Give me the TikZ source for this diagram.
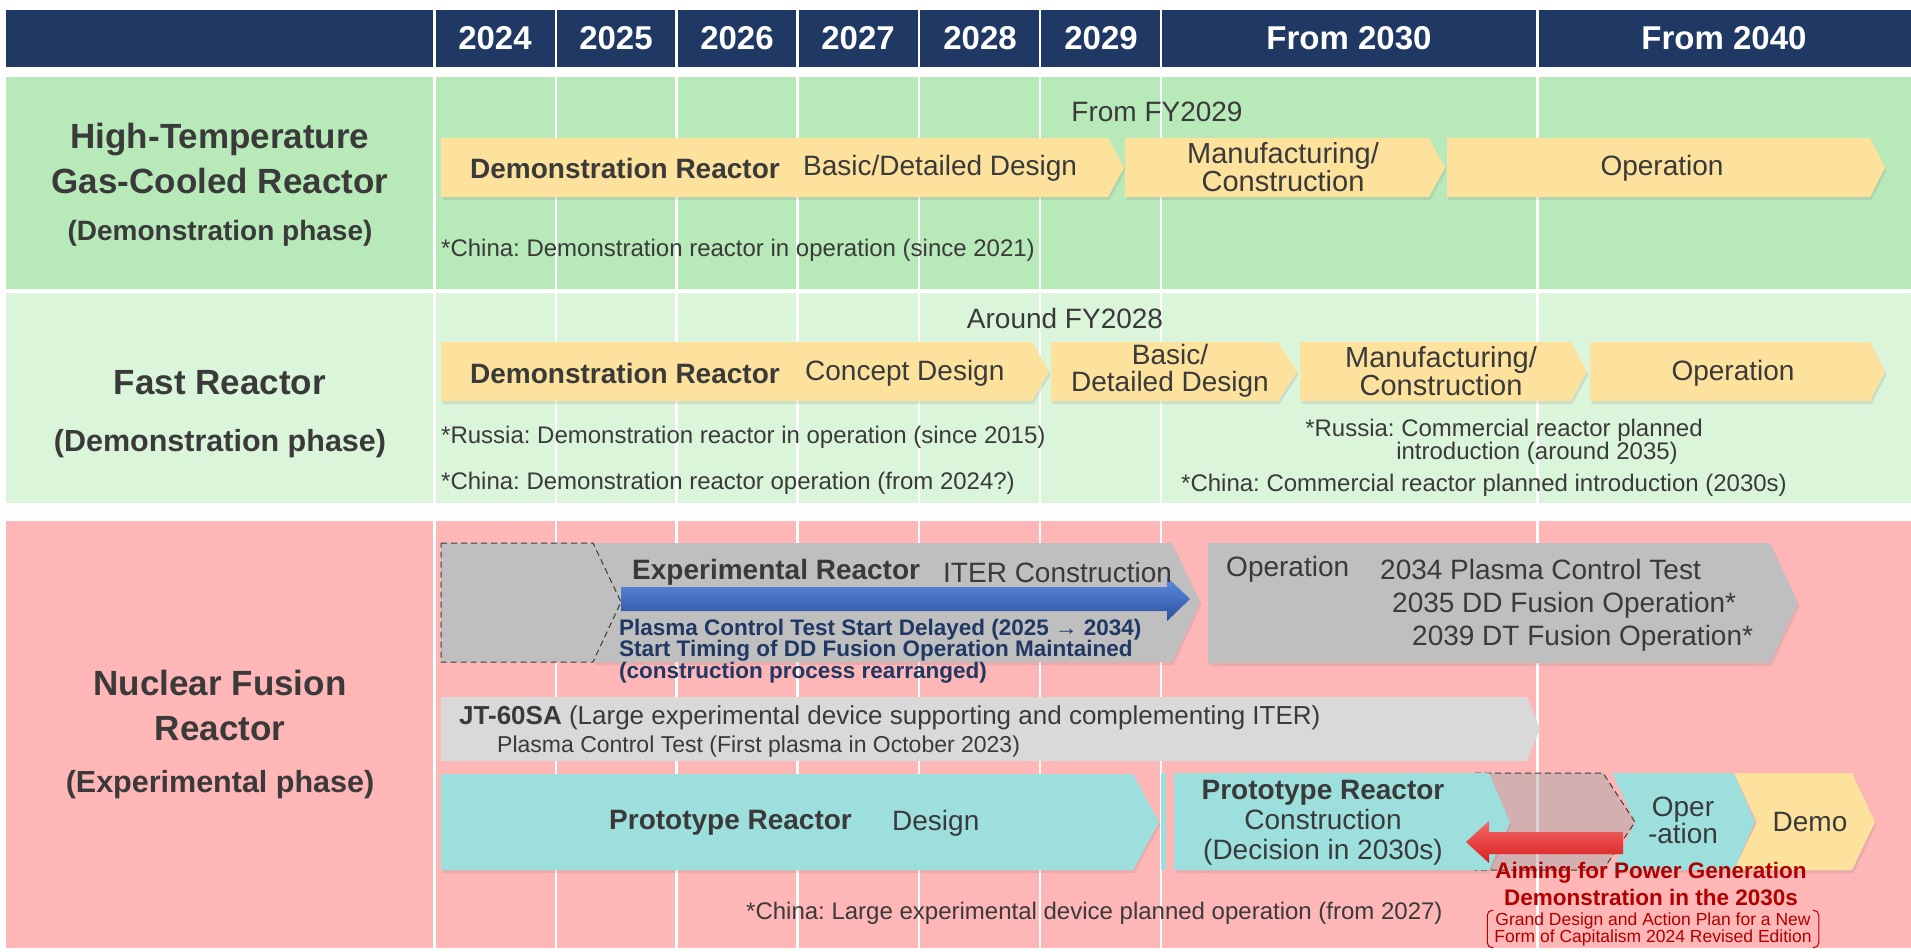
\documentclass[tikz,border=0pt]{standalone}
\usepackage{fontspec}
\setmainfont{Liberation Sans}
\usetikzlibrary{shadows}
\frenchspacing
\definecolor{headnavy}{HTML}{1F3864}
\definecolor{htgrgreen}{HTML}{B8EAB9}
\definecolor{fastgreen}{HTML}{DBF5DB}
\definecolor{fusionpink}{HTML}{FFB6B6}
\definecolor{phaseyellow}{HTML}{FDE29D}
\definecolor{phasegray}{HTML}{BFBFBF}
\definecolor{jtgray}{HTML}{D9D9D9}
\definecolor{phaseteal}{HTML}{9DDFDC}
\definecolor{shadegray}{HTML}{AAAAAA}
\definecolor{inkgray}{HTML}{3A3A3A}
\definecolor{planred}{HTML}{B00000}
\definecolor{delayblue}{HTML}{1F3864}
\definecolor{bluetop}{HTML}{5E8DE0}
\definecolor{bluebot}{HTML}{2C4F9E}
\definecolor{redtop}{HTML}{F46A6A}
\definecolor{redbot}{HTML}{D81E1E}

\begin{document}
\begin{tikzpicture}[x=1pt,y=-1pt,
  yelbar/.style={fill=phaseyellow,drop shadow={shadow xshift=1.5pt,shadow yshift=-3pt,opacity=0.18}},
  graybar/.style={fill=phasegray,drop shadow={shadow xshift=1.5pt,shadow yshift=-3pt,opacity=0.18}},
  tealbar/.style={fill=phaseteal,drop shadow={shadow xshift=1.5pt,shadow yshift=-3pt,opacity=0.18}},
  dashedge/.style={draw=inkgray,line width=1pt,dash pattern=on 6pt off 4pt},
  rowlbl/.style={text=inkgray,align=center,inner sep=0pt,font=\bfseries\fontsize{35}{45}\selectfont},
  phaselbl/.style={text=inkgray,inner sep=0pt,font=\bfseries\fontsize{30.5}{32}\selectfont},
  yearlbl/.style={text=white,inner sep=0pt,font=\bfseries\fontsize{33}{33}\selectfont},
  txt/.style={text=inkgray,inner sep=0pt,align=center,font=\fontsize{28}{27}\selectfont},
  boldtxt/.style={txt,font=\bfseries\fontsize{28}{27}\selectfont},
  note/.style={text=inkgray,inner sep=0pt,anchor=west,font=\fontsize{24}{21}\selectfont}]
\useasboundingbox (0,0) rectangle (1911,952);
\fill[white] (0,0) rectangle (1911,952);

% header and rows
\fill[headnavy] (6,10) rectangle (1911,67);
\fill[htgrgreen] (6,77) rectangle (1911,289);
\fill[fastgreen] (6,293) rectangle (1911,503);
\fill[fusionpink] (6,521) rectangle (1911,948);
\foreach \xx in {434.5,556,676.5,797.5,919,1040,1161,1537.5}
  \draw[white,line width=2.5pt] (\xx,10) -- (\xx,948);

\foreach \yr/\xc in {2024/495,2025/616,2026/737,2027/858,2028/980,2029/1101}
  \node[yearlbl] (yr\yr) at (\xc,38) {\yr};
\node[yearlbl] (yr2030) at (1349,38) {From 2030};
\node[yearlbl] (yr2040) at (1724,38) {From 2040};

\node[rowlbl] (htgrName) at (220,158.5) {High-Temperature\\Gas-Cooled Reactor};
\node[phaselbl,font=\bfseries\fontsize{28}{30}\selectfont] (htgrPhase) at (220,233) {(Demonstration phase)};
\node[rowlbl] (fastName) at (220,383) {Fast Reactor};
\node[phaselbl] (fastPhase) at (220,444) {(Demonstration phase)};
\node[rowlbl] (fusName) at (220,705.5) {Nuclear Fusion\\Reactor};
\node[phaselbl] (fusPhase) at (220,785) {(Experimental phase)};

% high-temperature gas-cooled reactor
\fill[yelbar] (441,138) -- (1108,138) -- (1124,167.5) -- (1108,197) -- (441,197) -- cycle;
\fill[yelbar] (1125,138) -- (1429,138) -- (1445,167.5) -- (1429,197) -- (1125,197) -- cycle;
\fill[yelbar] (1447,138) -- (1870,138) -- (1885,167.5) -- (1870,197) -- (1447,197) -- cycle;
\node[txt] (htgrFrom) at (1157,112) {From FY2029};
\node[boldtxt,anchor=west] (htgrDemo) at (470,168) {Demonstration Reactor};
\node[txt,anchor=west] (htgrDesign) at (803,168) {Basic/Detailed Design};
\node[txt,font=\fontsize{29}{25}\selectfont] (htgrBuild) at (1283,167) {Manufacturing/\\Construction};
\node[txt] (htgrOp) at (1662,168) {Operation};
\node[note] (htgrChina) at (441,250) {*China: Demonstration reactor in operation (since 2021)};

% fast reactor
\fill[yelbar] (441,342) -- (1032,342) -- (1049,371.5) -- (1032,401) -- (441,401) -- cycle;
\fill[yelbar] (1051,342) -- (1278,342) -- (1297,371.5) -- (1278,401) -- (1051,401) -- cycle;
\fill[yelbar] (1300,342) -- (1571,342) -- (1587,371.5) -- (1571,401) -- (1300,401) -- cycle;
\fill[yelbar] (1590,342) -- (1870,342) -- (1885,371.5) -- (1870,401) -- (1590,401) -- cycle;
\node[txt] (fastAround) at (1065,318) {Around FY2028};
\node[boldtxt,anchor=west] (fastDemo) at (470,373) {Demonstration Reactor};
\node[txt,anchor=west] (fastConcept) at (805,373) {Concept Design};
\node[txt] (fastDesign) at (1170,371) {Basic/\\Detailed Design};
\node[txt,font=\fontsize{29}{27}\selectfont] (fastBuild) at (1441,371) {Manufacturing/\\Construction};
\node[txt] (fastOp) at (1733,373) {Operation};
\node[note] (fastRussia) at (441,437) {*Russia: Demonstration reactor in operation (since 2015)};
\node[note] (fastChina) at (441,483) {*China: Demonstration reactor operation (from 2024?)};
\node[note,anchor=center,align=center] (fastRuPlan) at (1504,442) {*Russia: Commercial reactor planned\\\hspace*{66pt}introduction (around 2035)};
\node[note] (fastCnPlan) at (1181,485) {*China: Commercial reactor planned introduction (2030s)};

% nuclear fusion reactor
\fill[graybar] (593,543) -- (1172,543) -- (1200,602) -- (1172,662) -- (593,662) -- (621,602) -- cycle;
\filldraw[fill=phasegray,dashedge] (441,543) -- (593,543) -- (621,602) -- (593,662) -- (441,662) -- cycle;
\fill[graybar] (1208,543) -- (1770,543) -- (1798,603) -- (1770,663) -- (1208,663) -- cycle;
\shade[top color=bluetop,bottom color=bluebot] (621,587) -- (1167,587) -- (1167,577) -- (1190,599) -- (1167,621) -- (1167,611) -- (621,611) -- cycle;
\node[boldtxt,anchor=west] (iterExp) at (632,572) {Experimental Reactor};
\node[txt,anchor=west] (iterBuild) at (943,572) {ITER Construction};
\node[anchor=west,align=left,inner sep=0pt,text=delayblue,font=\bfseries\fontsize{22.5}{21}\selectfont] (iterDelay) at (619,651)
  {Plasma Control Test Start Delayed (2025 → 2034)\\Start Timing of DD Fusion Operation Maintained\\(construction process rearranged)};
\node[txt,anchor=west] (iterOp) at (1226,569) {Operation};
\node[txt,anchor=west] (iterPlasma) at (1380,569) {2034 Plasma Control Test};
\node[txt,anchor=west] (iterDD) at (1392,605) {2035 DD Fusion Operation*};
\node[txt,anchor=west] (iterDT) at (1412,638) {2039 DT Fusion Operation*};

\fill[jtgray] (441,697) -- (1527,697) -- (1540,729) -- (1527,761) -- (441,761) -- cycle;
\node[txt,anchor=west,font=\fontsize{26}{26}\selectfont] (jtName) at (459,718) {\textbf{JT-60SA} (Large experimental device supporting and complementing ITER)};
\node[txt,anchor=west,font=\fontsize{23}{23}\selectfont] (jtTest) at (497,747) {Plasma Control Test (First plasma in October 2023)};

\fill[tealbar] (441,774) -- (1133,774) -- (1159,822) -- (1133,870) -- (441,870) -- cycle;
\fill[phaseteal] (1161,773) rectangle (1166,870);
\fill[tealbar] (1612,773) -- (1734,773) -- (1755,822) -- (1734,870) -- (1612,870) -- (1635,822) -- cycle;
\fill[yelbar] (1734,773) -- (1852,773) -- (1875,822) -- (1852,870) -- (1734,870) -- (1757,822) -- cycle;
\filldraw[fill=shadegray,fill opacity=0.5,dashedge] (1475,773) -- (1603,773) -- (1635,822) -- (1603,870) -- (1475,870) -- cycle;
\fill[tealbar] (1174,773) -- (1489,773) -- (1510,822) -- (1489,870) -- (1174,870) -- cycle;
\shade[top color=redtop,bottom color=redbot] (1623,832) -- (1489,832) -- (1489,821) -- (1466,842) -- (1489,863) -- (1489,854) -- (1623,854) -- cycle;

\node[boldtxt,anchor=west] (protoName) at (609,823) {Prototype Reactor};
\node[txt,anchor=west] (protoDesign) at (892,823) {Design};
\node[txt,font=\fontsize{28}{30}\selectfont] (protoBuild) at (1323,823) {\textbf{Prototype Reactor}\\Construction\\(Decision in 2030s)};
\node[txt,font=\fontsize{28}{26}\selectfont] (protoOp) at (1683,820) {Oper\\-ation};
\node[txt] (protoDemo) at (1810,822) {Demo};
\node[note] (fusChina) at (746,913) {*China: Large experimental device planned operation (from 2027)};

\node[align=center,inner sep=0pt,text=planred,font=\bfseries\fontsize{22.5}{27}\selectfont] (aimText) at (1651,883.5)
  {Aiming for Power Generation\\Demonstration in the 2030s};
\node[align=center,inner xsep=7pt,inner ysep=0pt,minimum height=37pt,text=planred,font=\fontsize{17.5}{17}\selectfont] (planRef) at (1653,929)
  {Grand Design and Action Plan for a New\\Form of Capitalism 2024 Revised Edition};
\draw[planred,line width=1pt,rounded corners=5pt] ([xshift=6pt]planRef.north west) -- (planRef.north west) -- (planRef.south west) -- ([xshift=6pt]planRef.south west);
\draw[planred,line width=1pt,rounded corners=5pt] ([xshift=-6pt]planRef.north east) -- (planRef.north east) -- (planRef.south east) -- ([xshift=-6pt]planRef.south east);
\end{tikzpicture}
\end{document}
